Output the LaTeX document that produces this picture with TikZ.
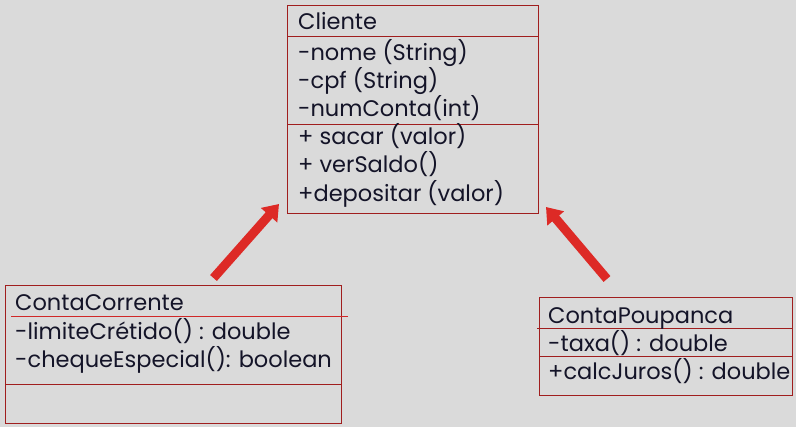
\documentclass[tikz,border=0pt]{standalone}
\usepackage{fontspec}
\setmainfont{Poppins}
\usetikzlibrary{arrows.meta}
\definecolor{bg}{HTML}{DADADA}
\definecolor{boxred}{HTML}{A01E1E}
\definecolor{linered}{HTML}{D02828}
\definecolor{arrred}{HTML}{DD2A26}
\definecolor{txt}{HTML}{141428}
\tikzset{
  classbox/.style={draw=boxred, line width=1.1pt, inner sep=0pt, anchor=north west},
  divider/.style={draw=boxred, line width=1pt},
  divbright/.style={draw=linered, line width=1pt},
  member/.style={anchor=base west, inner sep=0pt, text=txt, font=\fontsize{22.5}{26}\selectfont},
  inherit/.style={draw=arrred, line width=9pt, -{Triangle[width=21pt,length=15pt]}}
}
\begin{document}
\begin{tikzpicture}[x=1pt,y=-1pt]
\fill[bg] (0,0) rectangle (796,427);
\useasboundingbox (0,0) rectangle (796,427);
% Cliente
\node[classbox, minimum width=251pt, minimum height=208pt] (cliente) at (287,5) {};
\draw[divider] (287,37) -- (538,37);
\draw[divider] (287,125) -- (538,125);
\node[member] (c0) at (298,30) {Cliente};
\node[member] (c1) at (298,61) {-nome (String)};
\node[member] (c2) at (298,89) {-cpf (String)};
\node[member] (c3) at (298,117) {-numConta(int)};
\node[member] (c4) at (298,145) {+ sacar (valor)};
\node[member] (c5) at (298,173) {+ verSaldo()};
\node[member] (c6) at (298,202) {+depositar (valor)};
% ContaCorrente
\node[classbox, minimum width=336pt, minimum height=138pt] (cc) at (5,285) {};
\draw[divbright] (11,317) -- (348,317);
\draw[divider] (5,385) -- (341,385);
\node[member] (cc0) at (15,311) {ContaCorrente};
\node[member] (cc1) at (15,340) {-limiteCrétido() : double};
\node[member] (cc2) at (15,368) {-chequeEspecial(): boolean};
% ContaPoupanca
\node[classbox, minimum width=253pt, minimum height=98pt] (cp) at (539,297) {};
\draw[divider] (537,329) -- (792,329);
\draw[divider] (539,357) -- (792,357);
\node[member] (cp0) at (548,324) {ContaPoupanca};
\node[member] (cp1) at (548,352) {-taxa() : double};
\node[member] (cp2) at (548,380) {+calcJuros() : double};
% arrows
\coordinate (t1) at (213.5,278);
\coordinate (h1) at (279,204);
\coordinate (t2) at (607,279);
\coordinate (h2) at (546,207);
\draw[inherit] (t1) -- (h1);
\draw[inherit] (t2) -- (h2);
\end{tikzpicture}
\end{document}
